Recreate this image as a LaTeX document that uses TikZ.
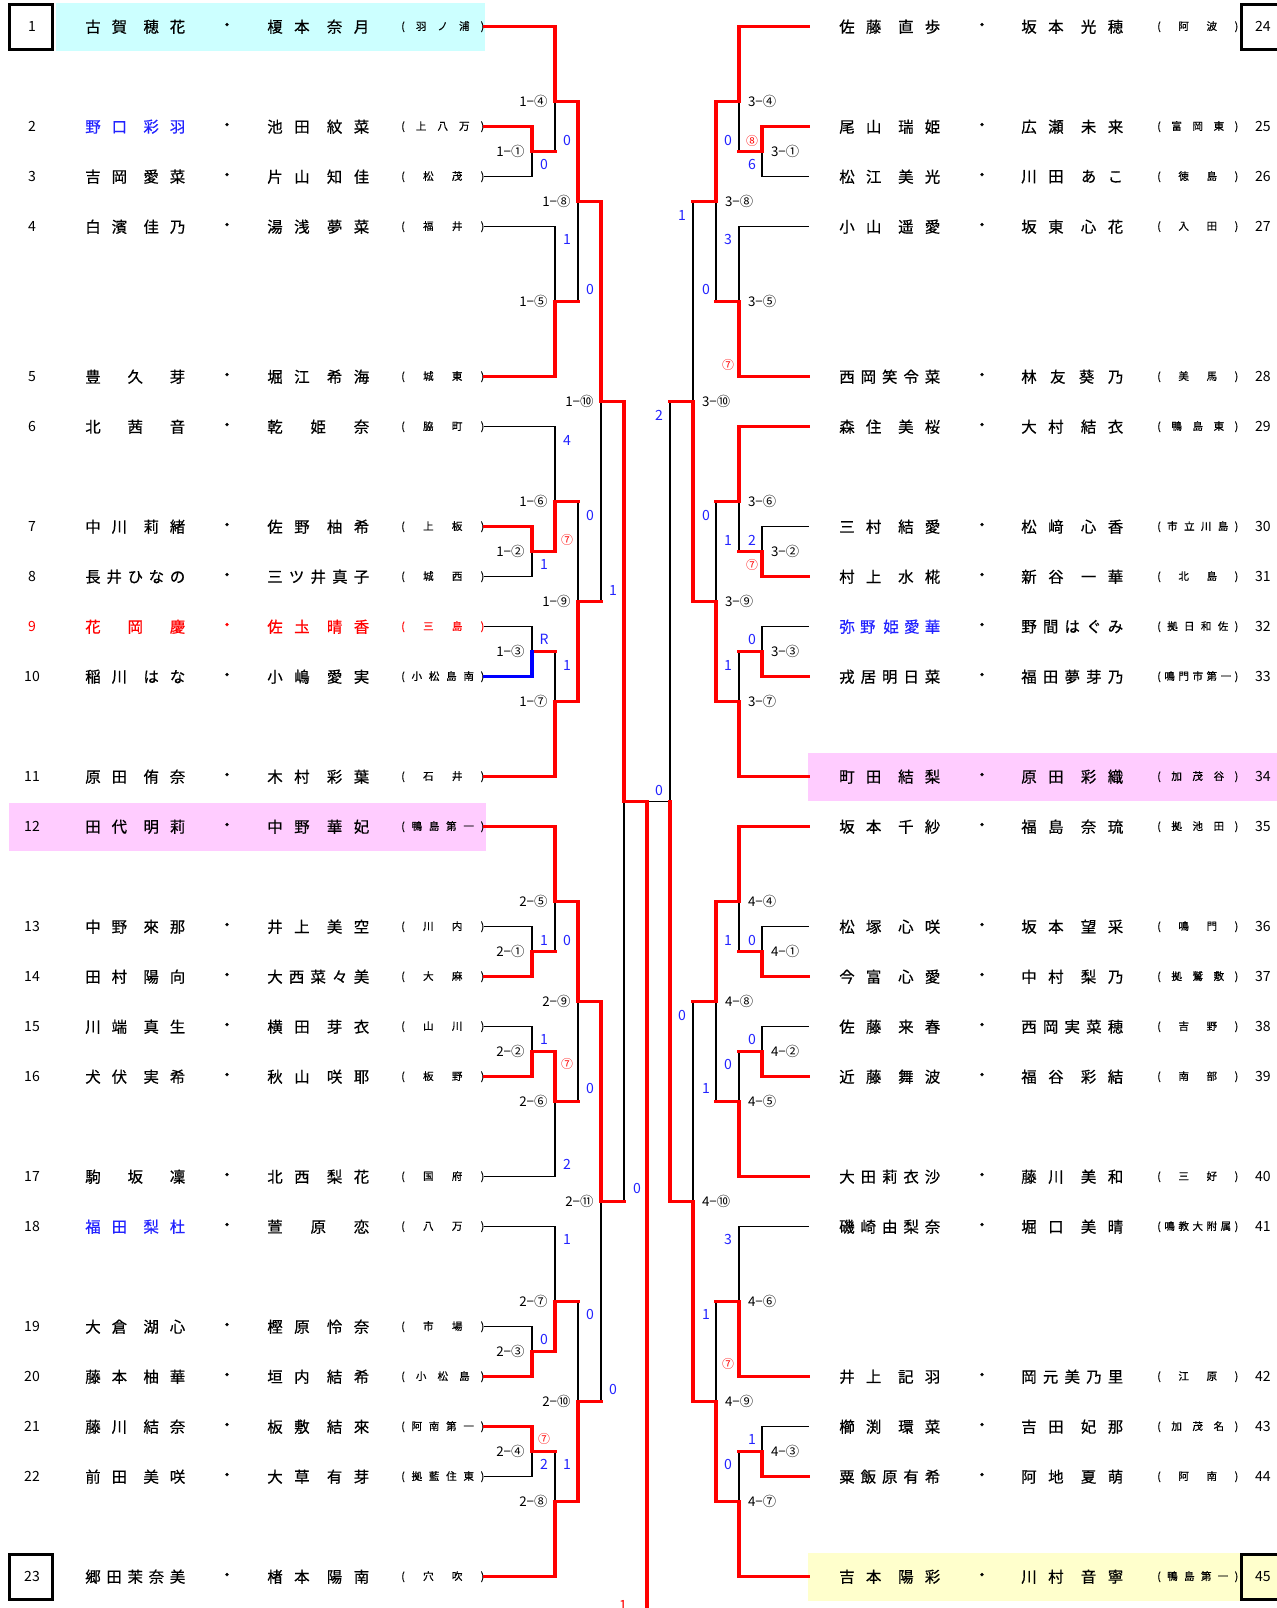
\documentclass[tikz,border=0pt]{standalone}
\usepackage{fontspec}
\setmainfont{Noto Sans CJK JP}
\newfontfamily\namefont{Noto Sans CJK JP}[FakeBold=0.5]

\definecolor{bgcyan}{RGB}{204,255,255}
\definecolor{bgpink}{RGB}{255,204,255}
\definecolor{bgyellow}{RGB}{255,255,204}
\definecolor{scoreblue}{RGB}{34,34,255}

% spread the letters of a name over a fixed width, | = small extra gap
\makeatletter
\def\spr@#1#2\spr@end{%
  \ifx|#1\hskip0pt plus -.5fil\relax\else#1\fi
  \if\relax\detokenize{#2}\relax\else\hfil\spr@#2\spr@end\fi}
\newcommand\spreadbox[2]{\makebox[#1][s]{\expandafter\spr@#2\spr@end}}
\makeatother

\tikzset{
  bline/.style={line width=0.33mm, line cap=rect},
  wline/.style={red, line width=0.85mm, line cap=rect},
  rline/.style={blue, line width=0.85mm, line cap=rect},
  seedbox/.style={line width=0.75mm},
  nm/.style={font=\namefont\fontsize{11}{11}\selectfont, inner sep=0pt},
  schl/.style={font=\namefont\fontsize{7.5}{7.5}\selectfont, inner sep=0pt},
  num/.style={font=\fontsize{10}{10}\selectfont, inner sep=0pt},
  mlabL/.style={font=\fontsize{9.5}{9.5}\selectfont, inner sep=0pt, anchor=east, xshift=-1.8mm},
  mlabR/.style={font=\fontsize{9.5}{9.5}\selectfont, inner sep=0pt, anchor=west, xshift=2.2mm},
  score/.style={font=\fontsize{10}{10}\selectfont, inner sep=0pt, text=scoreblue},
  rmk/.style={font=\fontsize{8.5}{8.5}\selectfont, inner sep=0pt, text=red}
}

\begin{document}
\begin{tikzpicture}[x=0.25mm, y=-12.5mm]
        \useasboundingbox (0,-0.534) rectangle (1277,31.626);

        %row backgrounds
        \fill[bgcyan] (56,-0.48) rectangle (485,0.49);
        \fill[bgpink] (9,15.52) rectangle (486,16.49);
        \fill[bgpink] (808,14.52) rectangle (1277,15.49);
        \fill[bgyellow] (808,30.52) rectangle (1277,31.49);

        %seed boxes
        \draw[seedbox] (9.5,-0.44) rectangle (52.5,0.46);
        \draw[seedbox] (9.5,30.56) rectangle (52.5,31.46);
        \draw[seedbox] (1241.5,-0.44) rectangle (1285,0.46);
        \draw[seedbox] (1241.5,30.56) rectangle (1285,31.46);

        %left entries
        \foreach \n/\s/\na/\nb/\school/\ka/\kb in {
            1/0/古賀|穂花/榎本|奈月/(羽ノ浦)/black/black,
            2/2/野口|彩羽/池田|紋菜/(上八万)/scoreblue/black,
            3/3/吉岡|愛菜/片山|知佳/(松茂)/black/black,
            4/4/白濱|佳乃/湯浅|夢菜/(福井)/black/black,
            5/7/豊久芽/堀江|希海/(城東)/black/black,
            6/8/北茜音/乾姫奈/(脇町)/black/black,
            7/10/中川|莉緒/佐野|柚希/(上板)/black/black,
            8/11/長井ひなの/三ツ井真子/(城西)/black/black,
            9/12/花岡慶/佐圡|晴香/(三島)/red/red,
            10/13/稲川|はな/小嶋|愛実/(小松島南)/black/black,
            11/15/原田|侑奈/木村|彩葉/(石井)/black/black,
            12/16/田代|明莉/中野|華妃/(鴨島第一)/black/black,
            13/18/中野|來那/井上|美空/(川内)/black/black,
            14/19/田村|陽向/大西菜々美/(大麻)/black/black,
            15/20/川端|真生/横田|芽衣/(山川)/black/black,
            16/21/犬伏|実希/秋山|咲耶/(板野)/black/black,
            17/23/駒坂凜/北西|梨花/(国府)/black/black,
            18/24/福田|梨杜/萱原恋/(八万)/scoreblue/black,
            19/26/大倉|湖心/樫原|怜奈/(市場)/black/black,
            20/27/藤本|柚華/垣内|結希/(小松島)/black/black,
            21/28/藤川|結奈/板敷|結來/(阿南第一)/black/black,
            22/29/前田|美咲/大草|有芽/(拠藍住東)/black/black,
            23/31/郷田茉奈美/楮本|陽南/(穴吹)/black/black}{
          \node[num, text=\kb] (n\n) at (32,\s) {\n};
          \node[nm, text=\ka, anchor=west] (a\n) at (85,\s) {\spreadbox{25mm}{\na}};
          \node[nm, text=\kb] (d\n) at (227,\s) {・};
          \node[nm, text=\kb, anchor=west] (b\n) at (267,\s) {\spreadbox{25.5mm}{\nb}};
          \node[schl, text=\kb, anchor=west] (c\n) at (401,\s) {\spreadbox{20.75mm}{\school}};
          \coordinate (e\n) at (485,\s);
        }

        %right entries
        \foreach \n/\s/\na/\nb/\school/\ka/\kb in {
            24/0/佐藤|直歩/坂本|光穂/(阿波)/black/black,
            25/2/尾山|瑞姫/広瀬|未来/(富岡東)/black/black,
            26/3/松江|美光/川田|あこ/(徳島)/black/black,
            27/4/小山|遥愛/坂東|心花/(入田)/black/black,
            28/7/西岡笑令菜/林友葵乃/(美馬)/black/black,
            29/8/森住|美桜/大村|結衣/(鴨島東)/black/black,
            30/10/三村|結愛/松﨑|心香/(市立川島)/black/black,
            31/11/村上|水椛/新谷|一華/(北島)/black/black,
            32/12/弥野|姫愛華/野間はぐみ/(拠日和佐)/scoreblue/black,
            33/13/戎居明日菜/福田夢芽乃/(鳴門市第一)/black/black,
            34/15/町田|結梨/原田|彩織/(加茂谷)/black/black,
            35/16/坂本|千紗/福島|奈琉/(拠池田)/black/black,
            36/18/松塚|心咲/坂本|望采/(鳴門)/black/black,
            37/19/今富|心愛/中村|梨乃/(拠鷲敷)/black/black,
            38/20/佐藤|来春/西岡実菜穂/(吉野)/black/black,
            39/21/近藤|舞波/福谷|彩結/(南部)/black/black,
            40/23/大田莉衣沙/藤川|美和/(三好)/black/black,
            41/24/磯崎由梨奈/堀口|美晴/(鳴教大附属)/black/black,
            42/27/井上|記羽/岡元美乃里/(江原)/black/black,
            43/28/櫛渕|環菜/吉田|妃那/(加茂名)/black/black,
            44/29/粟飯原有希/阿地|夏萌/(阿南)/black/black,
            45/31/吉本|陽彩/川村|音寧/(鴨島第一)/black/black}{
          \coordinate (e\n) at (808,\s);
          \node[nm, text=\ka, anchor=west] (a\n) at (839,\s) {\spreadbox{25.25mm}{\na}};
          \node[nm, text=\kb] (d\n) at (982,\s) {・};
          \node[nm, text=\kb, anchor=west] (b\n) at (1021,\s) {\spreadbox{25.5mm}{\nb}};
          \node[schl, text=\kb, anchor=west] (c\n) at (1157,\s) {\spreadbox{20.25mm}{\school}};
          \node[num, text=\kb] (n\n) at (1263,\s) {\n};
        }

        %match points and their labels
        \foreach \m/\x/\s/\t in {1-1/532/2.5/1−①, 1-4/555/1.5/1−④, 1-5/555/5.5/1−⑤,
            1-8/578/3.5/1−⑧, 1-10/601/7.5/1−⑩, 1-6/555/9.5/1−⑥, 1-2/532/10.5/1−②,
            1-9/578/11.5/1−⑨, 1-3/532/12.5/1−③, 1-7/555/13.5/1−⑦,
            2-5/555/17.5/2−⑤, 2-1/532/18.5/2−①, 2-9/578/19.5/2−⑨, 2-2/532/20.5/2−②,
            2-6/555/21.5/2−⑥, 2-11/601/23.5/2−⑪, 2-7/555/25.5/2−⑦, 2-3/532/26.5/2−③,
            2-10/578/27.5/2−⑩, 2-4/532/28.5/2−④, 2-8/555/29.5/2−⑧}{
          \coordinate (m\m) at (\x,\s);
          \node[mlabL] (l\m) at (m\m) {\t};
        }
        \foreach \m/\x/\s/\t in {3-4/739/1.5/3−④, 3-1/762/2.5/3−①, 3-8/716/3.5/3−⑧,
            3-5/739/5.5/3−⑤, 3-10/693/7.5/3−⑩, 3-6/739/9.5/3−⑥, 3-2/762/10.5/3−②,
            3-9/716/11.5/3−⑨, 3-3/762/12.5/3−③, 3-7/739/13.5/3−⑦,
            4-4/739/17.5/4−④, 4-1/762/18.5/4−①, 4-8/716/19.5/4−⑧, 4-2/762/20.5/4−②,
            4-5/739/21.5/4−⑤, 4-10/693/23.5/4−⑩, 4-6/739/25.5/4−⑥, 4-9/716/27.5/4−⑨,
            4-3/762/28.5/4−③, 4-7/739/29.5/4−⑦}{
          \coordinate (m\m) at (\x,\s);
          \node[mlabR] (l\m) at (m\m) {\t};
        }
        \coordinate (sf1) at (624,15.5);
        \coordinate (sf2) at (670,15.5);
        \coordinate (fin) at (647,15.5);
        \coordinate (champ) at (647,31.8);

        %draw the whole draw in black
        \foreach \a/\b in {e1/m1-4, e2/m1-1, e3/m1-1, m1-1/m1-4, e4/m1-5, e5/m1-5,
            m1-4/m1-8, m1-5/m1-8, e6/m1-6, e7/m1-2, e8/m1-2, m1-2/m1-6, e9/m1-3,
            e10/m1-3, m1-3/m1-7, e11/m1-7, m1-6/m1-9, m1-7/m1-9, m1-8/m1-10,
            m1-9/m1-10, m1-10/sf1,
            e12/m2-5, e13/m2-1, e14/m2-1, m2-1/m2-5, e15/m2-2, e16/m2-2, m2-2/m2-6,
            e17/m2-6, m2-5/m2-9, m2-6/m2-9, e18/m2-7, e19/m2-3, e20/m2-3, m2-3/m2-7,
            e21/m2-4, e22/m2-4, m2-4/m2-8, e23/m2-8, m2-7/m2-10, m2-8/m2-10,
            m2-9/m2-11, m2-10/m2-11, m2-11/sf1, sf1/fin, sf2/fin,
            e24/m3-4, e25/m3-1, e26/m3-1, m3-1/m3-4, e27/m3-5, e28/m3-5, m3-4/m3-8,
            m3-5/m3-8, e29/m3-6, e30/m3-2, e31/m3-2, m3-2/m3-6, e32/m3-3, e33/m3-3,
            m3-3/m3-7, e34/m3-7, m3-6/m3-9, m3-7/m3-9, m3-8/m3-10, m3-9/m3-10,
            m3-10/sf2,
            e35/m4-4, e36/m4-1, e37/m4-1, m4-1/m4-4, e38/m4-2, e39/m4-2, m4-2/m4-5,
            e40/m4-5, m4-4/m4-8, m4-5/m4-8, e41/m4-6, e42/m4-6, m4-6/m4-9, e43/m4-3,
            e44/m4-3, m4-3/m4-7, e45/m4-7, m4-7/m4-9, m4-8/m4-10, m4-9/m4-10,
            m4-10/sf2}
          \draw[bline] (\a) -| (\b);

        %winners in red
        \draw[wline] (e1) -| (m1-4) -| (m1-8) -| (m1-10) -| (sf1) -| (fin) -- (champ);
        \draw[wline] (e2) -| (m1-1) -- (m1-1 -| m1-4);
        \draw[wline] (e5) -| (m1-5) -- (m1-5 -| m1-8);
        \draw[wline] (e7) -| (m1-2) -| (m1-6) -- (m1-6 -| m1-9);
        \draw[wline] (m1-3) -- (m1-3 -| m1-7);
        \draw[rline] (e10) -| (m1-3);
        \draw[wline] (e11) -| (m1-7) -| (m1-9) -- (m1-9 -| m1-10);
        \draw[wline] (e12) -| (m2-5) -| (m2-9) -| (m2-11) -- (m2-11 -| sf1);
        \draw[wline] (e14) -| (m2-1) -- (m2-1 -| m2-5);
        \draw[wline] (e16) -| (m2-2) -| (m2-6) -- (m2-6 -| m2-9);
        \draw[wline] (e20) -| (m2-3) -| (m2-7) -- (m2-7 -| m2-10);
        \draw[wline] (e21) -| (m2-4) -- (m2-4 -| m2-8);
        \draw[wline] (e23) -| (m2-8) -| (m2-10) -- (m2-10 -| m2-11);
        \draw[wline] (e24) -| (m3-4) -| (m3-8) -- (m3-8 -| m3-10);
        \draw[wline] (e25) -| (m3-1) -- (m3-1 -| m3-4);
        \draw[wline] (e28) -| (m3-5) -- (m3-5 -| m3-8);
        \draw[wline] (e29) -| (m3-6) -- (m3-6 -| m3-9);
        \draw[wline] (e31) -| (m3-2) -- (m3-2 -| m3-6);
        \draw[wline] (e33) -| (m3-3) -- (m3-3 -| m3-7);
        \draw[wline] (e34) -| (m3-7) -| (m3-9) -| (m3-10) -- (m3-10 -| sf2);
        \draw[wline] (e35) -| (m4-4) -| (m4-8) -- (m4-8 -| m4-10);
        \draw[wline] (e37) -| (m4-1) -- (m4-1 -| m4-4);
        \draw[wline] (e39) -| (m4-2) -- (m4-2 -| m4-5);
        \draw[wline] (e40) -| (m4-5) -- (m4-5 -| m4-8);
        \draw[wline] (e42) -| (m4-6) -- (m4-6 -| m4-9);
        \draw[wline] (e44) -| (m4-3) -- (m4-3 -| m4-7);
        \draw[wline] (e45) -| (m4-7) -| (m4-9) -| (m4-10) -| (sf2);

        %scores
        \foreach \x/\s/\t [count=\i] in {567/2.28/0, 544/2.76/0, 567/4.25/1, 590/5.25/0,
            567/8.27/4, 590/9.77/0, 544/10.76/1, 613/11.27/1, 544/12.25/R, 567/12.77/1,
            544/18.27/1, 567/18.27/0, 544/20.25/1, 590/21.23/0, 567/22.75/2, 637/23.23/0,
            567/24.25/1, 590/25.75/0, 544/26.25/0, 613/27.25/0, 544/28.75/2, 567/28.75/1,
            659/7.77/2, 659/15.27/0,
            728/2.28/0, 752/2.76/6, 682/3.77/1, 728/4.25/3, 706/5.25/0,
            706/9.77/0, 728/10.27/1, 752/10.27/2, 752/12.25/0, 728/12.77/1,
            728/18.27/1, 752/18.27/0, 682/19.77/0, 752/20.25/0, 728/20.75/0, 706/21.23/1,
            728/24.25/3, 706/25.75/1, 752/28.25/1, 728/28.75/0}
          \node[score] (sc\i) at (\x,\s) {\t};
        \foreach \x/\s/\t [count=\i] in {567/10.27/⑦, 567/20.75/⑦, 544/28.25/⑦,
            752/2.28/⑧, 728/6.77/⑦, 752/10.76/⑦, 728/26.75/⑦}
          \node[rmk] (rm\i) at (\x,\s) {\t};
        \node[score, text=red] (last) at (623,31.57) {1};
\end{tikzpicture}
\end{document}
